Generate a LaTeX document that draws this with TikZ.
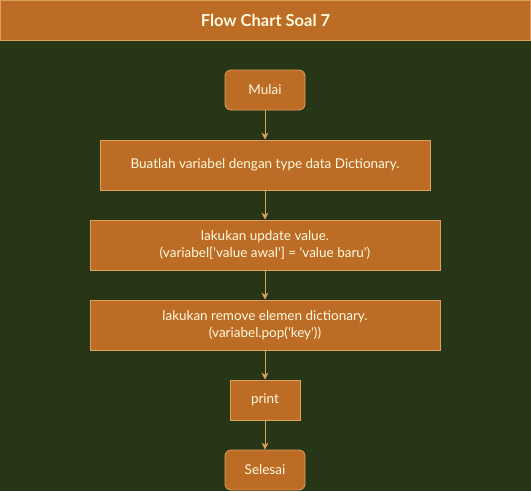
\documentclass[tikz,border=0pt]{standalone}
\usepackage{fontspec}
\setmainfont{Lato}
\usetikzlibrary{arrows.meta}
\definecolor{bgdark}{HTML}{283618}
\definecolor{boxfill}{HTML}{BC6C25}
\definecolor{boxline}{HTML}{DDA15E}
\definecolor{boxtext}{HTML}{FEFAE0}
\newcommand{\sq}{\textquotesingle}
\tikzset{
  box/.style={draw=boxline,fill=boxfill,text=boxtext,line width=0.8pt,align=center,
    inner sep=0pt,font=\fontsize{13.5}{16.5}\selectfont},
  term/.style={box,rounded corners=6pt,minimum width=80pt,minimum height=40pt},
  link/.style={draw=boxline,line width=0.8pt,-{Stealth[length=7pt,width=7pt]}}
}
\begin{document}
\begin{tikzpicture}[x=1pt,y=-1pt]
          \fill[bgdark] (0,0) rectangle (531,491);
          \useasboundingbox (0,0) rectangle (531,491);
          \node[box,minimum width=530pt,minimum height=40pt,font=\fontsize{16.5}{18}\selectfont\bfseries] (title) at (265.5,20) {Flow Chart Soal 7};
          \node[term] (mulai) at (265,90) {Mulai};
          \node[box,minimum width=330pt,minimum height=50pt] (buat) at (265,165) {Buatlah variabel dengan type data Dictionary.};
          \node[box,minimum width=350pt,minimum height=50pt] (update) at (265,245) {lakukan update value.\\(variabel[\sq value awal\sq] = \sq value baru\sq)};
          \node[box,minimum width=350pt,minimum height=50pt] (remove) at (265,325) {lakukan remove elemen dictionary.\\(variabel.pop(\sq key\sq))};
          \node[box,minimum width=70pt,minimum height=40pt] (print) at (265,400) {print};
          \node[term] (selesai) at (265,470) {Selesai};
          \draw[link] (mulai)--(buat);
          \draw[link] (buat)--(update);
          \draw[link] (update)--(remove);
          \draw[link] (remove)--(print);
          \draw[link] (print)--(selesai);
        \end{tikzpicture}
\end{document}
